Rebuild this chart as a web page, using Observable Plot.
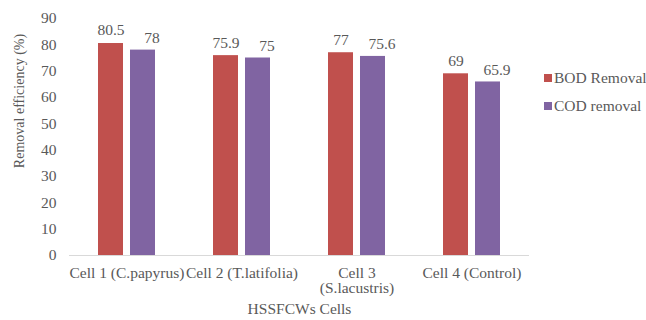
<!DOCTYPE html>
<html>
<head>
<meta charset="utf-8">
<script src="https://cdn.jsdelivr.net/npm/d3@7"></script>
<script src="https://cdn.jsdelivr.net/npm/@observablehq/plot@0.6"></script>
<style>
  body { margin: 0; background: #fff; }
  #wrap { position: relative; width: 646px; height: 320px; font-family: "Liberation Serif", "Times New Roman", serif; color: #595959; }
  .legend { position: absolute; left: 544px; font-size: 15.5px; display: flex; align-items: center; white-space: nowrap; }
  .legend span.sw { display: inline-block; width: 8px; height: 8px; margin-right: 2px; }
  #ylab { position: absolute; left: 20px; top: 101px; transform: translate(-50%, -50%) rotate(-90deg); font-size: 14px; white-space: nowrap; }
</style>
</head>
<body>
<div id="wrap">
  <div id="chart"></div>
  <div id="ylab">Removal efficiency (%)</div>
  <div class="legend" style="top:69px"><span class="sw" style="background:#C0504D"></span>BOD Removal</div>
  <div class="legend" style="top:97px"><span class="sw" style="background:#8064A2"></span>COD removal</div>
</div>
<script>
const cells = ["Cell 1 (C.papyrus)", "Cell 2 (T.latifolia)", "Cell 3\n(S.lacustris)", "Cell 4 (Control)"];
const series = ["BOD Removal", "COD removal"];
const bodValues = [80.5, 75.9, 77, 69];
const codValues = [78, 75, 75.6, 65.9];
const yTicks = [0, 10, 20, 30, 40, 50, 60, 70, 80, 90];
const colors = ["#C0504D", "#8064A2"];

const data = [];
cells.forEach((c, i) => {
  data.push({cell: c, series: series[0], value: bodValues[i]});
  data.push({cell: c, series: series[1], value: codValues[i]});
});

const chart = Plot.plot({
  width: 646,
  height: 320,
  marginLeft: 68,
  marginRight: 116,
  marginTop: 18,
  marginBottom: 65,
  style: {fontFamily: "'Liberation Serif', 'Times New Roman', serif", fontSize: "15.5px", color: "#595959", background: "transparent"},
  fx: {domain: cells, padding: 0, label: "HSSFCWs Cells", labelAnchor: "center", labelOffset: 58, tickSize: 0, tickPadding: 11},
  x: {domain: series, axis: null, paddingInner: 0.212, paddingOuter: 0.856},
  y: {domain: [0, 90], ticks: yTicks, tickSize: 0, tickPadding: 13, label: null},
  color: {domain: series, range: colors},
  marks: [
    Plot.barY(data, {fx: "cell", x: "series", y: "value", fill: "series"}),
    Plot.ruleY([0], {stroke: "#d9d9d9", strokeWidth: 1}),
    Plot.text(data.filter(d => d.series === series[0]), {fx: "cell", x: "series", y: "value", text: d => String(d.value), dy: -13, fill: "#595959", fontSize: 15.5}),
    Plot.text(data.filter(d => d.series === series[1]), {fx: "cell", x: "series", y: "value", text: d => String(d.value), dy: -12, dx: 9, fill: "#595959", fontSize: 15.5})
  ]
});
document.getElementById("chart").appendChild(chart);
</script>
</body>
</html>
